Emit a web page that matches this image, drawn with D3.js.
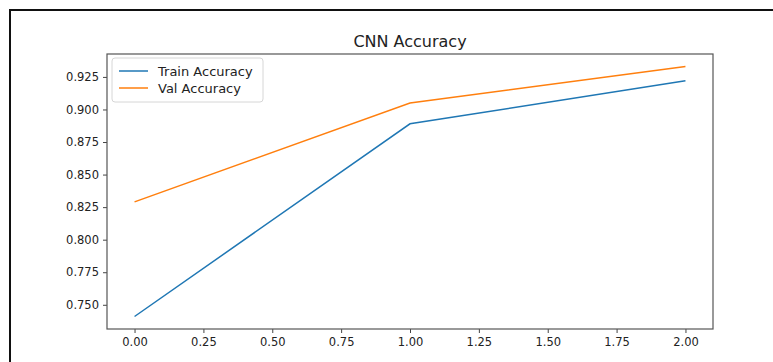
<!DOCTYPE html>
<html>
<head>
<meta charset="utf-8">
<script src="https://cdn.jsdelivr.net/npm/d3@7/dist/d3.min.js"></script>
<style>
  html, body { margin: 0; padding: 0; background: #fff; }
  svg { display: block; }
  text { font-family: "DejaVu Sans", sans-serif; fill: #222; }
</style>
</head>
<body>
<svg id="chart" width="773" height="362"></svg>
<script>
// Accuracy per epoch
const epochs = [0, 1, 2];
const trainAccuracy = [0.741, 0.889, 0.922];
const valAccuracy = [0.829, 0.905, 0.933];
const xTicks = [0, 0.25, 0.5, 0.75, 1, 1.25, 1.5, 1.75, 2];
const yTicks = [0.750, 0.775, 0.800, 0.825, 0.850, 0.875, 0.900, 0.925];
const seriesNames = ["Train Accuracy", "Val Accuracy"];
const seriesColors = ["#1f77b4", "#ff7f0e"];
const title = "CNN Accuracy";

const svg = d3.select("#chart");

// outer frame (top and left edges)
svg.append("path")
  .attr("d", "M10,362 L10,10 L773,10")
  .attr("fill", "none")
  .attr("stroke", "#111")
  .attr("stroke-width", 2);

const plot = { left: 107, top: 54, right: 713, bottom: 329 };

// 5% margins around the data, as in matplotlib
const xMin = d3.min(epochs), xMax = d3.max(epochs);
const xPad = (xMax - xMin) * 0.05;
const allY = trainAccuracy.concat(valAccuracy);
const yMin = d3.min(allY), yMax = d3.max(allY);
const yPad = (yMax - yMin) * 0.05;

const x = d3.scaleLinear().domain([xMin - xPad, xMax + xPad]).range([plot.left, plot.right]);
const y = d3.scaleLinear().domain([yMin - yPad, yMax + yPad]).range([plot.bottom, plot.top]);

// x axis
const xAxis = svg.append("g")
  .attr("transform", `translate(0,${plot.bottom})`)
  .call(d3.axisBottom(x).tickValues(xTicks).tickFormat(d3.format(".2f")).tickSize(4).tickPadding(5));
// y axis
const yAxis = svg.append("g")
  .attr("transform", `translate(${plot.left},0)`)
  .call(d3.axisLeft(y).tickValues(yTicks).tickFormat(d3.format(".3f")).tickSize(4).tickPadding(4));

[xAxis, yAxis].forEach(g => {
  g.select(".domain").remove();
  g.selectAll(".tick line").attr("stroke", "#444").attr("stroke-width", 1);
  g.selectAll(".tick text")
    .attr("fill", "#333")
    .style("font-family", "'DejaVu Sans', sans-serif")
    .style("font-size", "11.5px");
});

// spines
svg.append("rect")
  .attr("x", plot.left).attr("y", plot.top)
  .attr("width", plot.right - plot.left).attr("height", plot.bottom - plot.top)
  .attr("fill", "none").attr("stroke", "#555").attr("stroke-width", 1.2);

// lines
const line = d3.line().x((d, i) => x(epochs[i])).y(d => y(d));
[trainAccuracy, valAccuracy].forEach((s, k) => {
  svg.append("path")
    .datum(s)
    .attr("d", line)
    .attr("fill", "none")
    .attr("stroke", seriesColors[k])
    .attr("stroke-width", 1.5);
});

// title
svg.append("text")
  .attr("x", (plot.left + plot.right) / 2)
  .attr("y", 47)
  .attr("text-anchor", "middle")
  .style("font-size", "16px")
  .text(title);

// legend
const lg = svg.append("g").attr("transform", `translate(${plot.left + 5},${plot.top + 4})`);
lg.append("rect")
  .attr("x", 0).attr("y", 0).attr("width", 151).attr("height", 44)
  .attr("rx", 3)
  .attr("fill", "#fff").attr("fill-opacity", 0.8)
  .attr("stroke", "#d6d6d6");
seriesNames.forEach((name, i) => {
  const cy = 13 + i * 17;
  lg.append("line")
    .attr("x1", 7).attr("x2", 36).attr("y1", cy).attr("y2", cy)
    .attr("stroke", seriesColors[i]).attr("stroke-width", 1.5);
  lg.append("text")
    .attr("x", 46).attr("y", cy)
    .attr("dy", "0.36em")
    .style("font-size", "13px")
    .text(name);
});
</script>
</body>
</html>
